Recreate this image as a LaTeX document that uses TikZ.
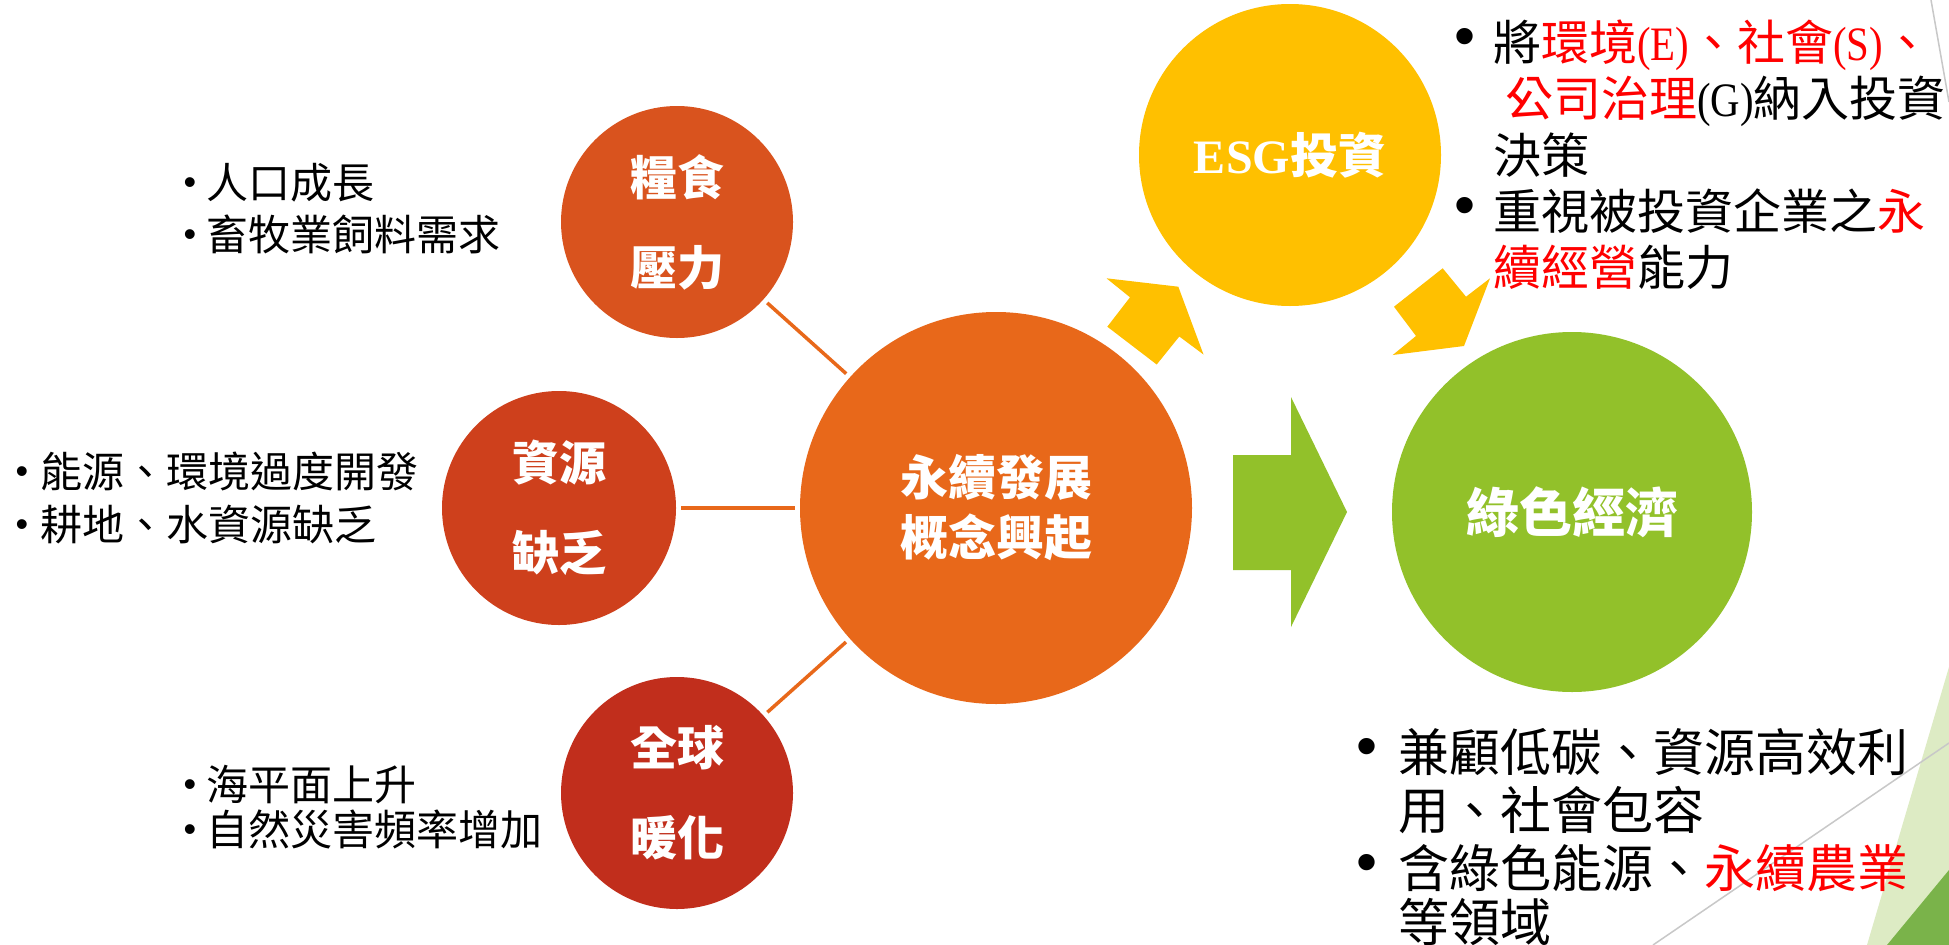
\documentclass[tikz,border=0pt]{standalone}
\usepackage{fontspec}
\usepackage{graphicx}
\setmainfont{Noto Sans CJK TC}
\newfontfamily\tnr{Liberation Serif}
\newfontfamily\lsans{Liberation Sans}
\definecolor{cfood}{HTML}{D9531E}
\definecolor{cres}{HTML}{CE401C}
\definecolor{cwarm}{HTML}{C12E1C}
\definecolor{cmain}{HTML}{E8681A}
\definecolor{cesg}{HTML}{FFC000}
\definecolor{cgreen}{HTML}{92C12A}
\definecolor{clight}{HTML}{DDEBC4}
\definecolor{cdark}{HTML}{7AB34A}
\definecolor{cred}{HTML}{FF0000}
\definecolor{cgray}{HTML}{C8C8C8}
\newcommand{\rd}[1]{\textcolor{cred}{#1}}
\newcommand{\lat}[1]{\scalebox{0.85}[1]{\tnr #1}}
\tikzset{
  circ/.style={circle, inner sep=0pt, text=white, align=center},
  conn/.style={draw=cmain, line width=3.5pt, shorten <=5pt, shorten >=5pt},
  blockarrow/.style={fill=cesg},
  lt/.style={anchor=base west, inner sep=0pt, font=\fontsize{42}{52}\selectfont},
  rt/.style={anchor=base west, inner sep=0pt, font=\fontsize{48}{56}\selectfont},
  bt/.style={anchor=base west, inner sep=0pt, font=\fontsize{51}{58}\selectfont},
  lb/.style={anchor=center, inner sep=0pt, font=\lsans\fontsize{36}{36}\selectfont},
  rb/.style={anchor=center, inner sep=0pt, font=\lsans\fontsize{60}{60}\selectfont},
  deco/.style={draw=cgray, line width=1.5pt}
}
\begin{document}
\begin{tikzpicture}[x=1pt,y=-1pt]
\useasboundingbox (0,0) rectangle (1949,945);
\fill[white] (0,0) rectangle (1949,945);
% slide decorations
\fill[clight] (1949,667) -- (1867,945) -- (1949,945) -- cycle;
\fill[cdark] (1949,870) -- (1887,945) -- (1949,945) -- cycle;
\draw[deco] (1653,945) -- (1949,743);
\draw[deco] (1931,0) -- (1949,102);

% circles
\node[circ, fill=cfood, minimum size=232pt, font=\bfseries\fontsize{47}{90}\selectfont] (food) at (677,222) {糧食\\壓力};
\node[circ, fill=cres, minimum size=234pt, font=\bfseries\fontsize{47}{90}\selectfont] (res) at (559,508) {資源\\缺乏};
\node[circ, fill=cwarm, minimum size=232pt, font=\bfseries\fontsize{47}{90}\selectfont] (warm) at (677,793) {全球\\暖化};
\node[circ, fill=cmain, minimum size=392pt, font=\bfseries\fontsize{48}{60}\selectfont] (main) at (996,508) {永續發展\\概念興起};
\node[circ, fill=cesg, minimum size=302pt, font=\bfseries\fontsize{48}{60}\selectfont] (esg) at (1290,155) {{\tnr\bfseries ESG}投資};
\node[circ, fill=cgreen, minimum size=360pt, font=\bfseries\fontsize{53}{60}\selectfont] (green) at (1572,512) {綠色經濟};

% connectors
\draw[conn] (food) -- (main);
\draw[conn] (res) -- (main);
\draw[conn] (warm) -- (main);

% block arrows
\fill[cgreen] (1233,455) -- (1291,455) -- (1291,397) -- (1347,512) -- (1291,627) -- (1291,570) -- (1233,570) -- cycle;
\fill[blockarrow] (1178.3,286.7) -- (1203.5,354.5) -- (1179.3,336.5) -- (1156.7,364.5) -- (1107.3,326.7) -- (1130,297.3) -- (1106.5,278.3) -- cycle;
\fill[blockarrow] (1464,346) -- (1392.7,355) -- (1416,336) -- (1394,306.7) -- (1442.7,268.3) -- (1466,296.7) -- (1490,278.3) -- cycle;

% left texts
\node[lb] (b1) at (190,186) {•};
\node[lb] (b2) at (190,238) {•};
\node[lt] (t1) at (206,198) {人口成長};
\node[lt] (t2) at (206,250) {畜牧業飼料需求};
\node[lb] (b3) at (22,475) {•};
\node[lb] (b4) at (22,528) {•};
\node[lt] (t3) at (40,487) {能源、環境過度開發};
\node[lt] (t4) at (40,540) {耕地、水資源缺乏};
\node[lb] (b5) at (190,788) {•};
\node[lb] (b6) at (190,833) {•};
\node[lt] (t5) at (206,800) {海平面上升};
\node[lt] (t6) at (206,845) {自然災害頻率增加};

% top right text
\node[rb] (b7) at (1465,42) {•};
\node[rb] (b8) at (1465,211) {•};
\node[rt] (r1) at (1493,60) {將\rd{環境\lat{(E)}、社會\lat{(S)}、}};
\node[rt] (r2) at (1493,116) {\rd{\makebox[12pt][l]{、}公司治理}\lat{(G)}納入投資};
\node[rt] (r3) at (1493,173) {決策};
\node[rt] (r4) at (1493,229) {重視被投資企業之\rd{永}};
\node[rt] (r5) at (1493,285) {\rd{續經營}能力};

% bottom right text
\node[rb] (b9) at (1367,752) {•};
\node[rb] (b10) at (1367,868) {•};
\node[bt] (g1) at (1398,771) {兼顧低碳、資源高效利};
\node[bt] (g2) at (1398,829) {用、社會包容};
\node[bt] (g3) at (1398,887) {含綠色能源、\rd{永續農業}};
\node[bt] (g4) at (1398,941) {等領域};
\end{tikzpicture}
\end{document}
